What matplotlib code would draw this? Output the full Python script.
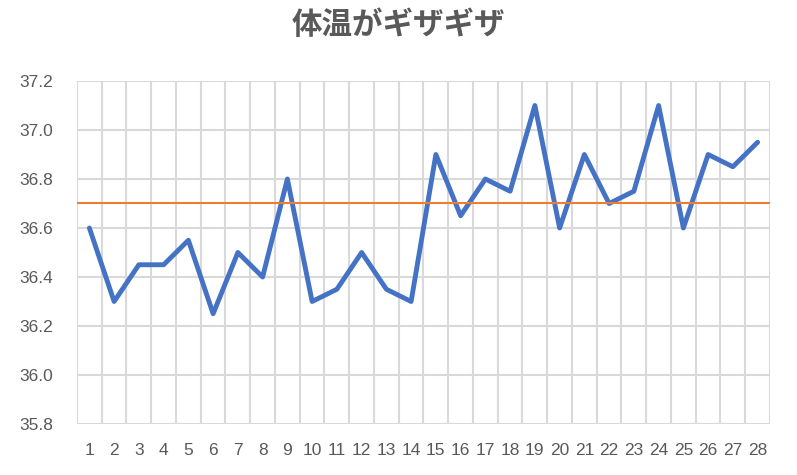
import numpy as np
from matplotlib import pyplot as plt

days = list(range(1, 29))
temps = [36.6, 36.3, 36.45, 36.45, 36.55, 36.25, 36.5, 36.4, 36.8, 36.3,
         36.35, 36.5, 36.35, 36.3, 36.9, 36.65, 36.8, 36.75, 37.1, 36.6,
         36.9, 36.7, 36.75, 37.1, 36.6, 36.9, 36.85, 36.95]
baseline = 36.7
y_ticks = [35.8, 36.0, 36.2, 36.4, 36.6, 36.8, 37.0, 37.2]
title = "体温がギザギザ"

grid_col = "#d9d9d9"
text_col = "#595959"

fig = plt.figure(figsize=(7.97, 4.75), dpi=100)
ax = fig.add_axes([77 / 797, 1 - 424 / 475, 693 / 797, 343 / 475])

ax.plot(days, temps, color="#4472C4", linewidth=3.5, solid_joinstyle="round",
        solid_capstyle="round", zorder=3)
ax.axhline(baseline, color="#ED7D31", linewidth=1.5, zorder=4)

ax.set_xlim(0.5, 28.5)
ax.set_ylim(35.8, 37.2)
ax.set_yticks(y_ticks)
ax.set_yticklabels([f"{v:.1f}" for v in y_ticks], family="Liberation Sans",
                   fontsize=12.5, color=text_col)
ax.set_xticks(days)
ax.set_xticklabels([str(d) for d in days], family="Liberation Sans",
                   fontsize=12.5, color=text_col)

# grid: horizontal at ticks, vertical at category boundaries
for v in y_ticks:
    ax.axhline(v, color=grid_col, linewidth=1.5, zorder=1)
for b in np.arange(0.5, 29, 1):
    ax.axvline(b, color=grid_col, linewidth=1.5, zorder=1)

for s in ax.spines.values():
    s.set_visible(False)
ax.tick_params(length=0)
ax.tick_params(axis="y", pad=17)
ax.tick_params(axis="x", pad=14)

fig.text(0.5, 1 - 25 / 475, title, ha="center", va="center", fontsize=22,
         fontweight="bold", color=text_col,
         family=["Noto Sans CJK JP", "DejaVu Sans"])

fig.savefig("out.png", dpi=100)
